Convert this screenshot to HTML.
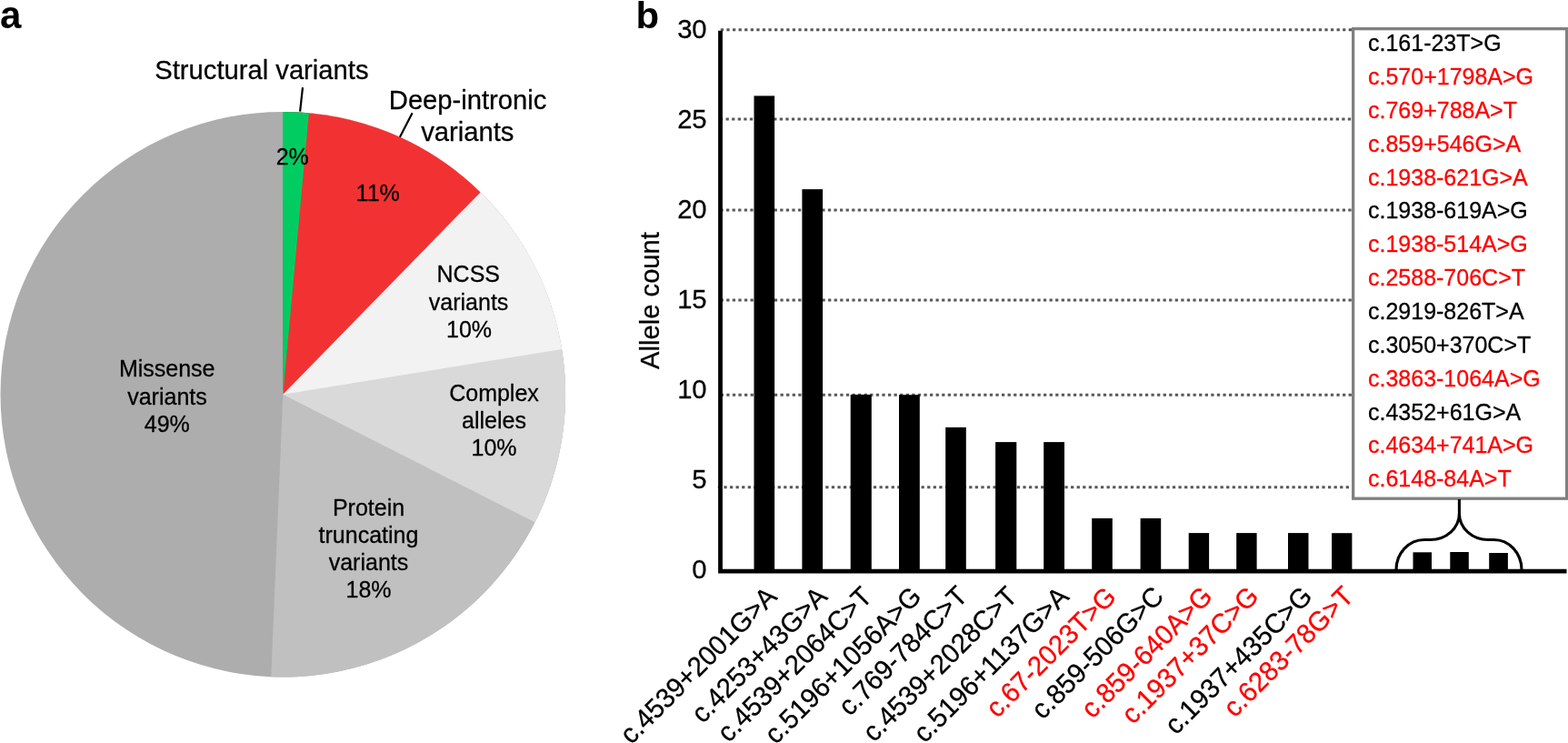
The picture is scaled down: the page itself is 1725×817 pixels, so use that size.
<!DOCTYPE html>
<html lang="en"><head><meta charset="utf-8"><title>Variant classes and deep-intronic allele counts</title>
<style>html,body{margin:0;padding:0;background:#fff}body{width:1725px;height:817px;overflow:hidden}svg{display:block}text{font-family:"Liberation Sans", sans-serif;fill:#000;stroke:#000;stroke-width:.28px;stroke-linejoin:round}.r{fill:#ff0000;stroke:#ff0000}.in{font-size:25px}.out{font-size:29.2px}.ax{font-size:29.2px}.bx{font-size:25px}.pl{font-size:42px;font-weight:bold;stroke:none}</style>
</head><body>
<svg width="1725" height="817" viewBox="0 0 1725 817">
<rect width="1725" height="817" fill="#fff"/>
<g>
<circle cx="311.3" cy="433.7" r="310.8" fill="#adadad"/>
<path d="M311.30,433.70L310.92,122.90A310.8,310.8 0 1 1 298.23,744.23Z" fill="#c0c0c0"/>
<path d="M311.30,433.70L310.92,122.90A310.8,310.8 0 0 1 588.47,574.32Z" fill="#d9d9d9"/>
<path d="M311.30,433.70L310.92,122.90A310.8,310.8 0 0 1 618.10,384.01Z" fill="#f2f2f2"/>
<path d="M311.30,433.70L310.92,122.90A310.8,310.8 0 0 1 528.52,211.41Z" fill="#f23232"/>
<path d="M311.30,433.70L310.92,122.90A310.8,310.8 0 0 1 339.85,124.21Z" fill="#00cc62"/>
</g>
<line x1="333.0" y1="96.2" x2="330.1" y2="122.6" stroke="#000" stroke-width="2.2"/>
<line x1="453.6" y1="124.2" x2="439.9" y2="150.8" stroke="#000" stroke-width="2.2"/>
<text x="0.0" y="31.00" class="pl" text-anchor="start">a</text>
<text class="pl" transform="translate(699.4,31.0) scale(1,0.955)">b</text>
<text x="287.9" y="87.40" class="out" text-anchor="middle">Structural variants</text>
<text x="514.6" y="120.10" class="out" text-anchor="middle">Deep-intronic</text>
<text x="514.3" y="154.90" class="out" text-anchor="middle">variants</text>
<text class="in" text-anchor="middle" transform="translate(321.70,180.50) scale(1,1.035)">2%</text>
<text class="in" text-anchor="middle" transform="translate(415.70,221.00) scale(1,1.035)">11%</text>
<text class="in" text-anchor="middle" transform="translate(515.30,310.40) scale(1,1.035)">NCSS</text>
<text x="515.6" y="340.70" class="in" text-anchor="middle">variants</text>
<text class="in" text-anchor="middle" transform="translate(516.00,371.10) scale(1,1.035)">10%</text>
<text x="183.7" y="414.40" class="in" text-anchor="middle">Missense</text>
<text x="184.0" y="445.00" class="in" text-anchor="middle">variants</text>
<text class="in" text-anchor="middle" transform="translate(183.80,475.40) scale(1,1.035)">49%</text>
<text x="543.5" y="440.70" class="in" text-anchor="middle">Complex</text>
<text x="543.5" y="471.10" class="in" text-anchor="middle">alleles</text>
<text class="in" text-anchor="middle" transform="translate(543.50,501.40) scale(1,1.035)">10%</text>
<text x="405.5" y="566.50" class="in" text-anchor="middle">Protein</text>
<text x="405.5" y="597.00" class="in" text-anchor="middle">truncating</text>
<text x="405.5" y="626.70" class="in" text-anchor="middle">variants</text>
<text class="in" text-anchor="middle" transform="translate(405.50,657.30) scale(1,1.035)">18%</text>
<line x1="792.8" y1="32.7" x2="1487.5" y2="32.7" stroke="#595959" stroke-width="3" stroke-dasharray="3.29 3.29"/>
<line x1="791.95" y1="130.9" x2="1487.5" y2="130.9" stroke="#595959" stroke-width="3" stroke-dasharray="3.29 3.29"/>
<line x1="792.4" y1="231.1" x2="1487.5" y2="231.1" stroke="#595959" stroke-width="3" stroke-dasharray="3.29 3.29"/>
<line x1="792.6" y1="330.0" x2="1487.5" y2="330.0" stroke="#595959" stroke-width="3" stroke-dasharray="3.29 3.29"/>
<line x1="792.7" y1="434.3" x2="1487.5" y2="434.3" stroke="#595959" stroke-width="3" stroke-dasharray="3.29 3.29"/>
<line x1="789.8" y1="535.8" x2="1487.5" y2="535.8" stroke="#595959" stroke-width="3" stroke-dasharray="3.29 3.29"/>
<rect x="1488.65" y="31.65" width="235.0" height="516.55" fill="#fff" stroke="#808080" stroke-width="3.3"/>
<rect x="829.5" y="105.4" width="22.6" height="522.7" fill="#000"/>
<rect x="882.4" y="208.1" width="22.7" height="420.0" fill="#000"/>
<rect x="935.7" y="433.9" width="23.1" height="194.2" fill="#000"/>
<rect x="989.0" y="434.2" width="22.8" height="193.9" fill="#000"/>
<rect x="1040.2" y="469.9" width="22.6" height="158.2" fill="#000"/>
<rect x="1095.1" y="486.1" width="23.2" height="142.0" fill="#000"/>
<rect x="1148.2" y="486.1" width="22.8" height="142.0" fill="#000"/>
<rect x="1201.2" y="569.9" width="22.6" height="58.2" fill="#000"/>
<rect x="1254.6" y="569.9" width="22.6" height="58.2" fill="#000"/>
<rect x="1307.7" y="586.1" width="22.4" height="42.0" fill="#000"/>
<rect x="1360.2" y="586.1" width="22.4" height="42.0" fill="#000"/>
<rect x="1417.0" y="586.1" width="22.5" height="42.0" fill="#000"/>
<rect x="1465.1" y="586.2" width="22.3" height="41.9" fill="#000"/>
<rect x="1554.5" y="607.3" width="20.5" height="20.8" fill="#000"/>
<rect x="1595.3" y="607.0" width="20.5" height="21.1" fill="#000"/>
<rect x="1638.2" y="608.0" width="20.7" height="20.1" fill="#000"/>
<path d="M792.5,33.7 V628.1 H1723.5" fill="none" stroke="#000" stroke-width="4.8" stroke-linejoin="miter"/>
<path d="M1536,626.5 A30.9,33 0 0 1 1566.9,593.5 H1573.5 A31.9,28.7 0 0 0 1605.4,564.8 V549 M1674,626.5 A30.5,33 0 0 0 1643.5,593.5 H1637.2 A31.8,28.7 0 0 1 1605.4,564.8" fill="none" stroke="#000" stroke-width="3.1"/>
<text class="ax" text-anchor="end" transform="translate(777.60,41.90) scale(1,1.035)">30</text>
<text class="ax" text-anchor="end" transform="translate(777.60,140.87) scale(1,1.035)">25</text>
<text class="ax" text-anchor="end" transform="translate(777.60,239.84) scale(1,1.035)">20</text>
<text class="ax" text-anchor="end" transform="translate(777.60,338.81) scale(1,1.035)">15</text>
<text class="ax" text-anchor="end" transform="translate(777.60,437.78) scale(1,1.035)">10</text>
<text class="ax" text-anchor="end" transform="translate(777.60,536.75) scale(1,1.035)">5</text>
<text class="ax" text-anchor="end" transform="translate(777.60,635.72) scale(1,1.035)">0</text>
<text class="ax" text-anchor="middle" transform="translate(724.5,330.5) rotate(-90)">Allele count</text>
<text class="ax" text-anchor="end" transform="translate(856.2,657.7) rotate(-45) scale(1,1.035)">c.4539+2001G&gt;A</text>
<text class="ax" text-anchor="end" transform="translate(911.9,657.6) rotate(-45) scale(1,1.035)">c.4253+43G&gt;A</text>
<text class="ax" text-anchor="end" transform="translate(961.1,657.9) rotate(-45) scale(1,1.035)">c.4539+2064C&gt;T</text>
<text class="ax" text-anchor="end" transform="translate(1015.4,657.8) rotate(-45) scale(1,1.035)">c.5196+1056A&gt;G</text>
<text class="ax" text-anchor="end" transform="translate(1066.2,657.2) rotate(-45) scale(1,1.035)">c.769-784C&gt;T</text>
<text class="ax" text-anchor="end" transform="translate(1120.9,657.6) rotate(-45) scale(1,1.035)">c.4539+2028C&gt;T</text>
<text class="ax" text-anchor="end" transform="translate(1177.5,657.8) rotate(-45) scale(1,1.035)">c.5196+1137G&gt;A</text>
<text class="ax r" text-anchor="end" transform="translate(1229.5,658.0) rotate(-45) scale(1,1.035)">c.67-2023T&gt;G</text>
<text class="ax" text-anchor="end" transform="translate(1281.9,657.5) rotate(-45) scale(1,1.035)">c.859-506G&gt;C</text>
<text class="ax r" text-anchor="end" transform="translate(1335.5,657.5) rotate(-45) scale(1,1.035)">c.859-640A&gt;G</text>
<text class="ax r" text-anchor="end" transform="translate(1386.3,657.5) rotate(-45) scale(1,1.035)">c.1937+37C&gt;G</text>
<text class="ax" text-anchor="end" transform="translate(1445.2,657.5) rotate(-45) scale(1,1.035)">c.1937+435C&gt;G</text>
<text class="ax r" text-anchor="end" transform="translate(1490.8,657.5) rotate(-45) scale(1,1.035)">c.6283-78G&gt;T</text>
<text class="bx" text-anchor="start" transform="translate(1505.00,56.20) scale(1,1.035)">c.161-23T&gt;G</text>
<text class="bx r" text-anchor="start" transform="translate(1505.00,93.05) scale(1,1.035)">c.570+1798A&gt;G</text>
<text class="bx r" text-anchor="start" transform="translate(1505.00,129.90) scale(1,1.035)">c.769+788A&gt;T</text>
<text class="bx r" text-anchor="start" transform="translate(1505.00,166.75) scale(1,1.035)">c.859+546G&gt;A</text>
<text class="bx r" text-anchor="start" transform="translate(1505.00,203.60) scale(1,1.035)">c.1938-621G&gt;A</text>
<text class="bx" text-anchor="start" transform="translate(1505.00,240.45) scale(1,1.035)">c.1938-619A&gt;G</text>
<text class="bx r" text-anchor="start" transform="translate(1505.00,277.30) scale(1,1.035)">c.1938-514A&gt;G</text>
<text class="bx r" text-anchor="start" transform="translate(1505.00,314.15) scale(1,1.035)">c.2588-706C&gt;T</text>
<text class="bx" text-anchor="start" transform="translate(1505.00,351.00) scale(1,1.035)">c.2919-826T&gt;A</text>
<text class="bx" text-anchor="start" transform="translate(1505.00,387.85) scale(1,1.035)">c.3050+370C&gt;T</text>
<text class="bx r" text-anchor="start" transform="translate(1505.00,424.70) scale(1,1.035)">c.3863-1064A&gt;G</text>
<text class="bx" text-anchor="start" transform="translate(1505.00,461.55) scale(1,1.035)">c.4352+61G&gt;A</text>
<text class="bx r" text-anchor="start" transform="translate(1505.00,498.40) scale(1,1.035)">c.4634+741A&gt;G</text>
<text class="bx r" text-anchor="start" transform="translate(1505.00,535.25) scale(1,1.035)">c.6148-84A&gt;T</text>
</svg></body></html>
